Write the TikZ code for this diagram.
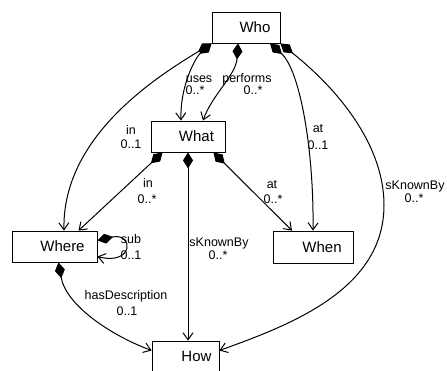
\documentclass[tikz,border=0pt]{standalone}
\usepackage{fontspec}
\setmainfont{Liberation Sans}
\usetikzlibrary{arrows.meta}
\begin{document}
\begin{tikzpicture}[x=1pt,y=-1pt,
  box/.style={draw, line width=0.8pt, minimum height=31pt, inner sep=0pt, font=\fontsize{15}{18}\selectfont},
  lab/.style={font=\fontsize{12.5}{15}\selectfont, inner sep=0pt, anchor=base},
  conn/.style={line width=1pt, {Diamond[length=16pt,width=10pt,fill=black]}-{Straight Barb[length=7pt,width=10pt]}}]
\useasboundingbox (0,0) rectangle (447,371);
% boxes
\node[box, minimum width=68pt] (who) at (246,27.5) {\hspace*{18pt}Who};
\node[box, minimum width=74pt] (what) at (188,136.5) {\hspace*{17pt}What};
\node[box, minimum width=85pt] (where) at (54.5,246.5) {\hspace*{16pt}Where};
\node[box, minimum width=80pt, minimum height=32pt] (when) at (313,247) {\hspace*{18pt}When};
\node[box, minimum width=67pt] (how) at (185.5,356.5) {\hspace*{22pt}How};
% connectors
\draw[conn] (who.south west) .. controls (196,57) and (180,85) .. ([xshift=-7pt]what.north);
\draw[conn] (who.south west) .. controls (160,75) and (62,135) .. ([xshift=9.5pt]where.north);
\draw[conn] ([xshift=-8pt]who.south) .. controls (236,75) and (212,95) .. ([xshift=15pt]what.north);
\draw[conn] ([xshift=24pt]who.south) .. controls (300,70) and (314,150) .. (when.north);
\draw[conn] (who.south east) .. controls (345,95) and (384,150) .. (384,205) .. controls (384,290) and (290,325) .. ([yshift=6pt]how.east);
\draw[conn] ([xshift=12pt]what.south west) -- ([xshift=24pt]where.north);
\draw[conn] (what.south) -- (what.south |- how.north);
\draw[conn] ([xshift=-12pt]what.south east) -- ([xshift=-21pt]when.north);
\draw[conn] ([yshift=6pt]where.east) .. controls (134,232) and (134,266) .. ([yshift=-10pt]where.east);
\draw[conn] ([xshift=4pt]where.south) .. controls (66,305) and (110,335) .. ([yshift=6pt]how.west);
% labels
\node[lab] (l1a) at (199,83) {uses};
\node[lab] (l1b) at (195,95) {0..*};
\node[lab] (l2a) at (247,83) {performs};
\node[lab] (l2b) at (253,95) {0..*};
\node[lab] (l3a) at (131,135) {in};
\node[lab] (l3b) at (131,149) {0..1};
\node[lab] (l4a) at (148,188) {in};
\node[lab] (l4b) at (147,204) {0..*};
\node[lab] (l5a) at (272,189) {at};
\node[lab] (l5b) at (273,204) {0..*};
\node[lab] (l6a) at (318,133) {at};
\node[lab] (l6b) at (318,150) {0..1};
\node[lab] (l7a) at (415,190) {sKnownBy};
\node[lab] (l7b) at (414,203) {0..*};
\node[lab] (l8a) at (219,247) {sKnownBy};
\node[lab] (l8b) at (218,260) {0..*};
\node[lab] (l9a) at (131,244) {sub};
\node[lab] (l9b) at (131,260) {0..1};
\node[lab] (l10a) at (126,299) {hasDescription};
\node[lab] (l10b) at (127,316) {0..1};
\end{tikzpicture}
\end{document}
